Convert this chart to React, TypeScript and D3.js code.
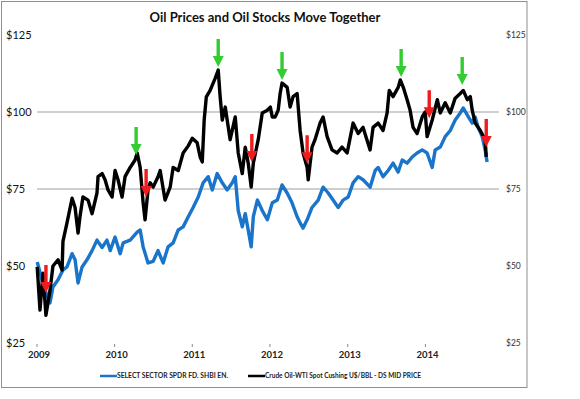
import { useMemo } from "react"
import { line as d3Line, scaleLinear, scaleTime, timeParse } from "d3"

const parseDate = timeParse("%Y-%m-%d")

// SELECT SECTOR SPDR FD. SHBI EN. (blue)
const energyDates = [
  "2009-01-02", "2009-01-25", "2009-02-08", "2009-03-03", "2009-03-17", "2009-04-10", "2009-05-03", "2009-05-22",
  "2009-06-15", "2009-06-29", "2009-07-13", "2009-08-01", "2009-08-24", "2009-09-17", "2009-10-10", "2009-11-03",
  "2009-11-26", "2009-12-11", "2010-01-03", "2010-01-27", "2010-02-10", "2010-03-15", "2010-04-17", "2010-05-01",
  "2010-05-15", "2010-06-07", "2010-07-01", "2010-07-24", "2010-08-17", "2010-09-09", "2010-10-03", "2010-10-27",
  "2010-11-19", "2010-12-13", "2011-01-05", "2011-01-29", "2011-02-21", "2011-03-17", "2011-04-05", "2011-04-28",
  "2011-05-22", "2011-06-14", "2011-07-08", "2011-07-22", "2011-08-05", "2011-08-24", "2011-09-07", "2011-09-21",
  "2011-10-05", "2011-10-15", "2011-11-03", "2011-11-26", "2011-12-20", "2012-01-12", "2012-02-05", "2012-02-27",
  "2012-03-22", "2012-04-14", "2012-05-08", "2012-05-22", "2012-06-05", "2012-06-24", "2012-07-17", "2012-08-15",
  "2012-09-07", "2012-10-01", "2012-10-24", "2012-11-17", "2012-12-10", "2013-01-03", "2013-01-26", "2013-02-19",
  "2013-03-14", "2013-04-16", "2013-05-10", "2013-05-24", "2013-06-16", "2013-07-10", "2013-08-02", "2013-08-26",
  "2013-09-14", "2013-10-07", "2013-10-31", "2013-11-23", "2013-12-17", "2014-01-09", "2014-02-02", "2014-02-16",
  "2014-03-12", "2014-04-04", "2014-04-28", "2014-05-21", "2014-06-14", "2014-06-28", "2014-07-22", "2014-08-09",
  "2014-08-23", "2014-09-06", "2014-09-25", "2014-10-09", "2014-10-18",
]
const energyValues = [
  51.3, 45.5, 42.2, 38, 43.2, 45.5, 48.7, 49.7,
  54, 52, 44.5, 49.7, 52, 55, 58.4, 56,
  58.4, 55, 59.4, 54, 57.5, 58.4, 61, 61.7,
  56.2, 51, 51.5, 55, 51, 56.2, 57.5, 61.7,
  62.7, 66, 69, 72.4, 77, 79, 74.7, 80,
  77, 74.7, 77, 79, 68, 62.7, 67, 61.7,
  56.2, 66, 71.4, 68, 65, 70.5, 71.4, 76.3,
  73.7, 70.5, 66, 64, 62.3, 65, 69, 71.4,
  75.6, 73.7, 71.4, 69, 71.4, 72.4, 77, 79,
  78, 75.6, 81, 82, 79, 81, 83.4, 80.5,
  84.4, 83.4, 85.4, 86.7, 87.7, 86.7, 82, 87.7,
  88.6, 92, 94, 97.4, 99.7, 101.3, 98.4, 96.4,
  98.4, 95, 92, 87.7, 83.8,
]

// Crude Oil-WTI Spot Cushing (black)
const crudeDates = [
  "2009-01-02", "2009-01-15", "2009-01-29", "2009-02-12", "2009-03-03", "2009-03-17", "2009-04-10", "2009-04-29",
  "2009-05-03", "2009-05-22", "2009-06-15", "2009-06-29", "2009-07-13", "2009-07-22", "2009-08-05", "2009-08-29",
  "2009-09-17", "2009-10-10", "2009-10-15", "2009-11-03", "2009-11-17", "2009-12-01", "2009-12-20", "2010-01-03",
  "2010-01-17", "2010-02-05", "2010-02-19", "2010-03-15", "2010-04-07", "2010-04-17", "2010-05-01", "2010-05-15",
  "2010-05-24", "2010-06-07", "2010-06-17", "2010-07-01", "2010-07-24", "2010-08-03", "2010-08-26", "2010-09-19",
  "2010-10-03", "2010-10-27", "2010-11-19", "2010-12-13", "2011-01-01", "2011-01-24", "2011-02-07", "2011-02-17",
  "2011-02-26", "2011-03-08", "2011-03-26", "2011-04-19", "2011-05-03", "2011-05-12", "2011-05-22", "2011-06-05",
  "2011-06-28", "2011-07-22", "2011-08-05", "2011-08-24", "2011-09-07", "2011-09-21", "2011-10-05", "2011-10-15",
  "2011-11-07", "2011-11-26", "2011-12-20", "2012-01-03", "2012-01-12", "2012-01-26", "2012-02-09", "2012-02-18",
  "2012-02-27", "2012-03-22", "2012-04-05", "2012-04-19", "2012-05-08", "2012-05-22", "2012-06-05", "2012-06-24",
  "2012-06-29", "2012-07-17", "2012-07-31", "2012-08-24", "2012-09-07", "2012-09-26", "2012-10-19", "2012-11-12",
  "2012-12-05", "2012-12-29", "2013-01-26", "2013-02-19", "2013-03-14", "2013-04-16", "2013-04-30", "2013-05-24",
  "2013-06-16", "2013-07-05", "2013-07-15", "2013-08-02", "2013-08-26", "2013-09-05", "2013-09-19", "2013-10-07",
  "2013-10-21", "2013-11-04", "2013-11-23", "2013-12-17", "2013-12-31", "2014-01-09", "2014-02-02", "2014-02-26",
  "2014-03-12", "2014-04-04", "2014-04-28", "2014-05-21", "2014-06-14", "2014-06-28", "2014-07-17", "2014-07-31",
  "2014-08-09", "2014-08-23", "2014-09-16", "2014-10-09", "2014-10-14",
]
const crudeValues = [
  49.7, 35.7, 47.7, 34, 42, 50, 52, 48.7,
  58, 64, 72, 69, 60.7, 66, 72.4, 71.4,
  67, 73.7, 79, 80, 78, 74.7, 72.4, 81,
  78, 72.4, 79, 82, 84.4, 86.7, 82, 70.5,
  65, 74.7, 77, 75.6, 79, 81, 71.4, 75.6,
  82, 81, 86.7, 89, 91.5, 90, 85.4, 83.8,
  97.4, 104.9, 107, 111, 113.6, 105, 97.4, 101.6,
  91, 98.4, 86.7, 80, 88.6, 83.4, 75.6, 83.4,
  91, 99.7, 100.6, 101.6, 98.4, 98.4, 100.6, 106,
  109.4, 108, 101.6, 105, 106, 94, 86.7, 82,
  78, 88.6, 91, 96.4, 98.4, 92, 87.7, 86.7,
  88.6, 86.7, 96.4, 93, 95, 87.7, 95, 96.4,
  94, 99.7, 107, 105, 108, 110.4, 108, 104,
  100.6, 95, 93, 98.4, 100, 92, 97.4, 104,
  99.7, 103, 99.7, 104.5, 106, 107, 104, 105,
  100.6, 96.4, 94, 91, 85.4,
]

// arrow annotations: date and value of the arrow tip
const peakDates = ["2010-04-12", "2011-05-03", "2012-02-27", "2013-09-09", "2014-06-23"]
const peakValues = [86, 114.6, 110.4, 111.4, 108.8]
const dipDates = ["2009-02-12", "2010-05-29", "2011-10-08", "2012-06-24", "2014-01-19", "2014-10-14"]
const dipValues = [41.2, 72.4, 83.8, 83.4, 98, 88.6]

const yTicks = [25, 50, 75, 100, 125]
const gridTicks = [75, 100]
const yearTicks = ["2009", "2010", "2011", "2012", "2013", "2014"]

const energyLabel = "SELECT SECTOR SPDR FD. SHBI EN."
const crudeLabel = "Crude Oil-WTI Spot Cushing U$/BBL - DS MID PRICE"

interface Point {
  date: Date
  value: number
}

const toPoints = (dates: string[], values: number[]): Point[] =>
  dates.map((d, i) => ({ date: parseDate(d) as Date, value: values[i] }))

const arrowPath = (x: number, y: number) =>
  `M${x - 1.7},${y - 28} L${x + 1.7},${y - 28} L${x + 1.7},${y - 11} L${x + 5.5},${y - 11} L${x},${y} L${x - 5.5},${y - 11} L${x - 1.7},${y - 11} Z`

export default function App() {
  const width = 580
  const height = 399
  const plot = { left: 37, right: 499, top: 35, bottom: 343 }

  const x = useMemo(
    () => scaleTime().domain([parseDate("2009-01-01") as Date, parseDate("2014-12-13") as Date]).range([plot.left, plot.right]),
    []
  )
  const y = useMemo(() => scaleLinear().domain([25, 125]).range([plot.bottom, plot.top]), [])

  const energy = toPoints(energyDates, energyValues)
  const crude = toPoints(crudeDates, crudeValues)
  const lineGen = d3Line<Point>()
    .x((p) => x(p.date))
    .y((p) => y(p.value))

  const font = "Lato, 'Open Sans', sans-serif"

  return (
    <svg width={width} height={height} style={{ position: "fixed", left: 0, top: 0, background: "#fff" }} fontFamily={font}>
      <rect x={1.5} y={1.5} width={525.5} height={386} fill="#fff" stroke="#8f8f8f" strokeWidth={1} />
      <text x={265} y={22} textAnchor="middle" fontSize={13} fontWeight="bold" fill="#111">
        Oil Prices and Oil Stocks Move Together
      </text>

      {gridTicks.map((t) => (
        <line key={t} x1={plot.left} x2={plot.right} y1={y(t)} y2={y(t)} stroke="#a0a0a0" strokeWidth={1.2} />
      ))}

      {yTicks.map((t) => (
        <g key={t}>
          <text x={6} y={y(t)} dy="0.35em" fontSize={11} fill="#111">{`$${t}`}</text>
          <text x={506} y={y(t)} dy="0.35em" fontSize={8.5} fill="#333">{`$${t}`}</text>
        </g>
      ))}

      {yearTicks.map((yr) => {
        const xp = x(parseDate(`${yr}-01-01`) as Date)
        return (
          <g key={yr}>
            <line x1={xp} x2={xp} y1={plot.bottom + 1} y2={plot.bottom + 4} stroke="#888" strokeWidth={1} />
            <text x={xp + 2} y={plot.bottom + 15} textAnchor="middle" fontSize={9.5} fontWeight="bold" fill="#222">{yr}</text>
          </g>
        )
      })}

      <path d={lineGen(energy) ?? ""} fill="none" stroke="#1a74c9" strokeWidth={3.4} strokeLinejoin="round" />
      <path d={lineGen(crude) ?? ""} fill="none" stroke="#000" strokeWidth={3.4} strokeLinejoin="round" />

      {peakDates.map((d, i) => (
        <path key={d} d={arrowPath(x(parseDate(d) as Date), y(peakValues[i]))} fill="#33cc33" />
      ))}
      {dipDates.map((d, i) => (
        <path key={d} d={arrowPath(x(parseDate(d) as Date), y(dipValues[i]))} fill="#ee1c1c" />
      ))}

      <g fontSize={6.8} fontWeight="bold" fill="#222">
        <line x1={100} x2={117} y1={376} y2={376} stroke="#1a74c9" strokeWidth={2.5} />
        <text x={117} y={376} dy="0.35em" textLength={111} lengthAdjust="spacingAndGlyphs">{energyLabel}</text>
        <line x1={248} x2={265} y1={376} y2={376} stroke="#000" strokeWidth={2.5} />
        <text x={265} y={376} dy="0.35em" textLength={156} lengthAdjust="spacingAndGlyphs">{crudeLabel}</text>
      </g>
    </svg>
  )
}
